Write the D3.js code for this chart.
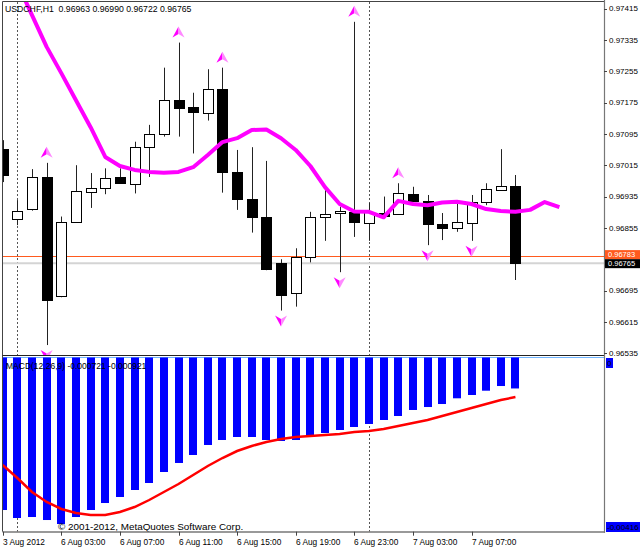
<!DOCTYPE html>
<html><head><meta charset="utf-8">
<script src="https://cdn.jsdelivr.net/npm/d3@7/dist/d3.min.js"></script>
<style>
body{margin:0;background:#fff;overflow:hidden}
svg{display:block}
text{font-family:"Liberation Sans",Arial,sans-serif;font-size:8px;fill:#000;white-space:pre}
</style></head>
<body><svg id="chart" width="640" height="549"></svg>
<script>
// ---------------- data ----------------
const symbolTitle = "USDCHF,H1  0.96963 0.96990 0.96722 0.96765";
const macdTitle = "MACD(12,26,9) -0.000721 -0.000921";
const copyright = "\u00a9 2001-2012, MetaQuotes Software Corp.";

const opens  = [0.97056,0.96877,0.96903,0.96986,0.96681,0.96870,0.96947,0.96956,0.96986,0.96967,0.97061,0.97095,0.97181,0.97163,0.97149,0.97209,0.96997,0.96928,0.96884,0.96765,0.96688,0.96780,0.96882,0.96892,0.96895,0.96867,0.96892,0.96890,0.96941,0.96924,0.96864,0.96854,0.96867,0.96922,0.96953,0.96963];
const highs  = [0.97079,0.96926,0.97005,0.97021,0.96884,0.97015,0.96995,0.97007,0.97007,0.97075,0.97118,0.97264,0.97328,0.97200,0.97260,0.97264,0.97054,0.97061,0.97026,0.96775,0.96803,0.96896,0.96952,0.96909,0.97381,0.96919,0.96935,0.96969,0.96960,0.96939,0.96893,0.96918,0.96939,0.96969,0.97056,0.96990];
const lows   = [0.96972,0.96862,0.96899,0.96556,0.96678,0.96868,0.96906,0.96941,0.96969,0.96943,0.96985,0.97088,0.97088,0.97045,0.97129,0.96945,0.96901,0.96843,0.96747,0.96644,0.96654,0.96767,0.96822,0.96742,0.96832,0.96822,0.96883,0.96890,0.96924,0.96811,0.96824,0.96845,0.96822,0.96913,0.96953,0.96722];
const closes = [0.96990,0.96899,0.96986,0.96671,0.96871,0.96950,0.96957,0.96983,0.96969,0.97062,0.97095,0.97181,0.97162,0.97150,0.97209,0.96997,0.96928,0.96882,0.96749,0.96685,0.96780,0.96882,0.96890,0.96899,0.96871,0.96895,0.96885,0.96943,0.96924,0.96865,0.96856,0.96870,0.96922,0.96955,0.96962,0.96765];

// moving average, shifted 3 bars forward (39 points)
const maValues = [0.97564,0.97480,0.97398,0.97317,0.97250,0.97181,0.97112,0.97036,0.97013,0.97003,0.96998,0.96996,0.96998,0.97010,0.97041,0.97074,0.97084,0.97105,0.97106,0.97084,0.97054,0.97013,0.96959,0.96916,0.96897,0.96896,0.96882,0.96924,0.96916,0.96913,0.96920,0.96922,0.96916,0.96903,0.96898,0.96896,0.96901,0.96921,0.96908];

const macdValues = [-0.003551,-0.003737,-0.003714,-0.003784,-0.003877,-0.003714,-0.003551,-0.003388,-0.003248,-0.003085,-0.002922,-0.002666,-0.002456,-0.002270,-0.002037,-0.001921,-0.001851,-0.001851,-0.001921,-0.001944,-0.001921,-0.001851,-0.001758,-0.001688,-0.001618,-0.001548,-0.001455,-0.001362,-0.001222,-0.001153,-0.001083,-0.000950,-0.000873,-0.000773,-0.000664,-0.000721];
const signalValues = [-0.002503,-0.002806,-0.003132,-0.003364,-0.003527,-0.003620,-0.003667,-0.003667,-0.003597,-0.003481,-0.003318,-0.003132,-0.002945,-0.002736,-0.002526,-0.002340,-0.002177,-0.002060,-0.001967,-0.001898,-0.001851,-0.001828,-0.001804,-0.001781,-0.001735,-0.001711,-0.001665,-0.001595,-0.001525,-0.001455,-0.001362,-0.001269,-0.001176,-0.001083,-0.000990,-0.000921];

const upFractals = [3,12,15,24,27];
const downFractals = [3,19,23,29,32];
const daySeparators = [1,25];

const priceTicks = [0.97415,0.97335,0.97255,0.97175,0.97095,0.97015,0.96935,0.96855,0.96695,0.96615,0.96535];
const timeTickIdx = [0,4,8,12,16,20,24,28,32];
const timeTickLabels = ["3 Aug 2012","6 Aug 03:00","6 Aug 07:00","6 Aug 11:00","6 Aug 15:00","6 Aug 19:00","6 Aug 23:00","7 Aug 03:00","7 Aug 07:00"];
const bidPrice = 0.96765, askPrice = 0.96783;
const subMaxLabel = "0", subMinLabel = "-0.00416";

// ---------------- layout ----------------
const L = 3, R = 604, mainTop = 2, mainBottom = 355, subTop = 357.5, subBottom = 531.7;
const svg = d3.select("#chart");

const x = d3.scaleLinear().domain([0, 35]).range([2.7, 515.45]);
const y = d3.scaleLinear().domain([0.965306, 0.974316]).range([mainBottom, mainTop]);
const ym = d3.scaleLinear().domain([-0.004056, 0]).range([subBottom, subTop]);

const defs = svg.append("defs");
defs.append("clipPath").attr("id","clipMain").append("rect").attr("x",L).attr("y",mainTop).attr("width",R-L).attr("height",mainBottom-mainTop);
defs.append("clipPath").attr("id","clipSub").append("rect").attr("x",L).attr("y",356).attr("width",R-L).attr("height",subBottom-356);

const px = v => Math.round(v) + 0.5;

// day separators
svg.append("g").selectAll("line").data(daySeparators).join("line")
  .attr("x1", d => px(x(d))).attr("x2", d => px(x(d)))
  .attr("y1", mainTop).attr("y2", subBottom)
  .attr("stroke","#555").attr("stroke-dasharray","2,2");

// ---------- main panel ----------
const gm = svg.append("g").attr("clip-path","url(#clipMain)");

gm.append("line").attr("x1",L).attr("x2",R).attr("y1",Math.round(y(askPrice))+0.5).attr("y2",Math.round(y(askPrice))+0.5)
  .attr("stroke","#ff5a1e").attr("stroke-width",1);
gm.append("line").attr("x1",L).attr("x2",R).attr("y1",y(bidPrice)).attr("y2",y(bidPrice))
  .attr("stroke","#d4d4d4").attr("stroke-width",2);

const idx = d3.range(opens.length);
gm.append("g").selectAll("line").data(idx).join("line")
  .attr("x1", i => px(x(i))).attr("x2", i => px(x(i)))
  .attr("y1", i => y(highs[i])).attr("y2", i => y(lows[i]))
  .attr("stroke","#222").attr("stroke-width",1);
gm.append("g").selectAll("rect").data(idx).join("rect")
  .attr("x", i => Math.round(x(i)) - 4.5)
  .attr("width", 10)
  .attr("y", i => Math.round(y(Math.max(opens[i],closes[i]))) + 0.5)
  .attr("height", i => Math.max(1, Math.round(y(Math.min(opens[i],closes[i]))) - Math.round(y(Math.max(opens[i],closes[i])))))
  .attr("fill", i => closes[i] >= opens[i] ? "#fff" : "#000")
  .attr("stroke","#000").attr("stroke-width",1);

gm.append("path").datum(maValues)
  .attr("d", d3.line().x((d,i) => x(i)).y(d => y(d)))
  .attr("fill","none").attr("stroke","#ff00ff").attr("stroke-width",4).attr("stroke-linejoin","round");

const arrowLeft = "M0,-6 L0,1.5 L-6,5 Z", arrowRight = "M0,-6 L6,5 L0,1.5 Z";
function arrows(list, tf){
  const g = gm.append("g").selectAll("g").data(list).join("g").attr("transform", tf);
  g.append("path").attr("d", arrowLeft).attr("fill","#ff00ff");
  g.append("path").attr("d", arrowRight).attr("fill","#ff88ff");
}
arrows(upFractals, i => `translate(${x(i)},${y(highs[i]) - 10})`);
arrows(downFractals, i => `translate(${x(i)},${y(lows[i]) + 10}) scale(1,-1)`);

svg.append("text").attr("x",5).attr("y",12).style("font-size","8.7px").text(symbolTitle);

// ---------- sub panel ----------
const gs = svg.append("g").attr("clip-path","url(#clipSub)");
gs.append("line").attr("x1",L).attr("x2",R+3).attr("y1",subTop).attr("y2",subTop).attr("stroke","#6fb4ff").attr("stroke-width",1.2);
gs.append("g").selectAll("rect").data(idx).join("rect")
  .attr("x", i => Math.round(x(i)) - 4)
  .attr("width", 8)
  .attr("y", subTop)
  .attr("height", i => ym(macdValues[i]) - subTop)
  .attr("fill","#0000ff");
gs.append("path").datum(signalValues)
  .attr("d", d3.line().x((d,i) => x(i)).y(d => ym(d)))
  .attr("fill","none").attr("stroke","#ff0000").attr("stroke-width",2.5);

svg.append("text").attr("x",6).attr("y",369).style("font-size","8.5px").text(macdTitle);
svg.append("text").attr("x",58).attr("y",529.5).style("font-size","9.9px").text(copyright);

// ---------- frame ----------
svg.append("line").attr("x1",2.5).attr("x2",2.5).attr("y1",1.5).attr("y2",subBottom).attr("stroke","#444");
svg.append("line").attr("x1",2.5).attr("x2",R).attr("y1",1.5).attr("y2",1.5).attr("stroke","#444");
svg.append("line").attr("x1",2.5).attr("x2",R).attr("y1",355.5).attr("y2",355.5).attr("stroke","#222");
svg.append("line").attr("x1",2.5).attr("x2",R+1).attr("y1",subBottom+0.3).attr("y2",subBottom+0.3).attr("stroke","#777").attr("stroke-width",1.5);
svg.append("line").attr("x1",R+0.5).attr("x2",R+0.5).attr("y1",0).attr("y2",subBottom+1).attr("stroke","#777").attr("stroke-width",1.2);

// price axis
const pa = svg.append("g");
pa.selectAll("line").data(priceTicks).join("line")
  .attr("x1",R).attr("x2",R+3).attr("y1",d=>Math.round(y(d))+0.5).attr("y2",d=>Math.round(y(d))+0.5).attr("stroke","#444");
pa.selectAll("text").data(priceTicks).join("text")
  .attr("x",R+5).attr("y",d=>y(d)).attr("dy","0.35em").text(d=>d.toFixed(5));

// ask/bid labels
function priceBox(p, bg, fg, dyPx){
  const cy = y(p) + dyPx;
  svg.append("rect").attr("x",R+1).attr("y",cy-4.5).attr("width",36).attr("height",9).attr("fill",bg);
  svg.append("text").attr("x",R+4).attr("y",cy).attr("dy","0.35em").style("font-size","7.5px").style("fill",fg).text(p.toFixed(5));
}
priceBox(askPrice, "#ff5a1e", "#fff", -1.5);
priceBox(bidPrice, "#000", "#fff", 0.5);

// sub axis labels
svg.append("rect").attr("x",R+2).attr("y",358).attr("width",7).attr("height",10).attr("fill","#0000ff");
svg.append("text").attr("x",R+3).attr("y",363).attr("dy","0.35em").text(subMaxLabel);
svg.append("rect").attr("x",R+2).attr("y",522).attr("width",34).attr("height",10).attr("fill","#0000ff");
svg.append("text").attr("x",R+3).attr("y",527).attr("dy","0.35em").text(subMinLabel);

// time axis
const ta = svg.append("g");
ta.selectAll("line").data(timeTickIdx).join("line")
  .attr("x1",i=>px(x(i))).attr("x2",i=>px(x(i))).attr("y1",subBottom).attr("y2",subBottom+4).attr("stroke","#444");
ta.selectAll("text").data(timeTickIdx).join("text")
  .attr("x",i=>Math.round(x(i))).attr("y",545).style("font-size","8.3px").text((d,k)=>timeTickLabels[k]);
</script></body></html>
